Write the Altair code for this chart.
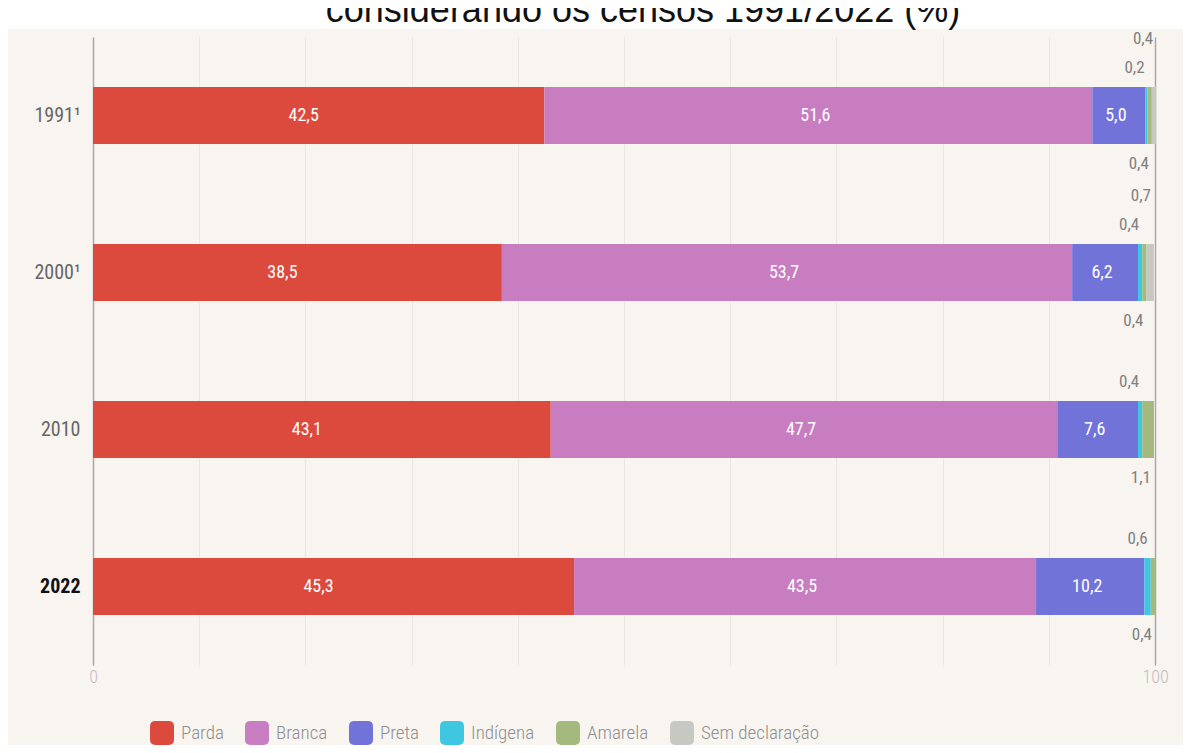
import altair as alt
import pandas as pd

# ---- data ----
years = ["1991¹", "2000¹", "2010", "2022"]
categories = ["Parda", "Branca", "Preta", "Indígena", "Amarela", "Sem declaração"]
colors = ["#dc4a3d", "#c87dc0", "#7273d9", "#3fc6e0", "#a4b97d", "#c8c8c3"]
parda = [42.5, 38.5, 43.1, 45.3]
branca = [51.6, 53.7, 47.7, 43.5]
preta = [5.0, 6.2, 7.6, 10.2]
indigena = [0.2, 0.4, 0.4, 0.6]
amarela = [0.4, 0.4, 1.1, 0.4]
sem_declaracao = [0.4, 0.7, 0.0, 0.0]
title_text = "considerando os censos 1991/2022 (%)"

series = [parda, branca, preta, indigena, amarela, sem_declaracao]
label_place = ["in0", "in", "in", "above", "below", "above2"]

rows = []
for yi, yr in enumerate(years):
    cum = 0.0
    for ci, cat in enumerate(categories):
        v = series[ci][yi]
        start, end = cum, cum + v
        cum = end
        place = label_place[ci] if v > 0 else "none"
        rows.append({
            "year": yr, "cat": cat, "order": ci, "value": v,
            "start": start, "end": end, "mid": (start + end) / 2,
            "label": f"{v:.1f}".replace(".", ","), "place": place,
        })
df = pd.DataFrame(rows)

FONT = "Roboto Condensed, Liberation Sans Narrow, DejaVu Sans Condensed, Roboto"
W, H = 1062, 628
PAD = {"left": 85, "top": 29, "right": 28, "bottom": 80}

rounded = "M-1,-0.55 Q-1,-1 -0.55,-1 L0.55,-1 Q1,-1 1,-0.55 L1,0.55 Q1,1 0.55,1 L-0.55,1 Q-1,1 -1,0.55 Z"

base = alt.Chart(df)

y_enc = alt.Y("year:N", sort=years,
              scale=alt.Scale(domain=years, paddingInner=0, paddingOuter=0),
              axis=alt.Axis(title=None, domain=True, domainColor="#a9a9a9", domainWidth=1.5,
                            ticks=False, labelFontSize=20, labelPadding=13, labelFont=FONT,
                            labelColor=alt.condition("datum.value == '2022'", alt.value("#111111"), alt.value("#666666")),
                            labelFontWeight=alt.condition("datum.value == '2022'", alt.value("bold"), alt.value("normal")),
                            grid=False))

x_enc = alt.X("start:Q",
              scale=alt.Scale(domain=[0, 100], nice=False, zero=True),
              axis=alt.Axis(title=None, values=list(range(0, 101, 10)),
                            labelExpr="(datum.value == 0 || datum.value == 100) ? datum.label : ''",
                            labelFlush=False,
                            grid=True,
                            gridColor=alt.condition("datum.value == 100", alt.value("#a9a9a9"), alt.value("#ebe6e1")),
                            gridWidth=alt.condition("datum.value == 100", alt.value(1.5), alt.value(1)),
                            domain=False, ticks=False, labelColor="#c0c0c0", labelFontSize=18,
                            labelFontWeight=300, labelPadding=3, labelFont=FONT))

bars = base.mark_bar(size=57).encode(
    x=x_enc,
    x2="end:Q",
    y=y_enc,
    color=alt.Color("cat:N", sort=categories,
                    scale=alt.Scale(domain=categories, range=colors),
                    legend=alt.Legend(title=None, orient="none", legendX=57, legendY=684,
                                      direction="horizontal", symbolType=rounded, symbolSize=576,
                                      symbolStrokeWidth=0, labelFontSize=19, labelFontWeight=300,
                                      labelColor="#8f8f8f",
                                      labelFont=FONT, columnPadding=21, labelOffset=7, padding=0)),
    order=alt.Order("order:Q"),
)

def inner(place, dx):
    return base.transform_filter(f"datum.place == '{place}'").mark_text(
        color="white", fontSize=18, font=FONT, dx=dx
    ).encode(x="mid:Q", y=alt.Y("year:N", sort=years), text="label:N")

inner_parda = inner("in0", -15)
inner_rest = inner("in", -3)

def side(place, dy):
    return base.transform_filter(f"datum.place == '{place}'").mark_text(
        color="#808080", fontSize=17, font=FONT, align="right", dx=-3, dy=dy
    ).encode(x="end:Q", y=alt.Y("year:N", sort=years), text="label:N")

above = side("above", -48)
above2 = side("above2", -77)
below = side("below", 48)

one = alt.Chart(pd.DataFrame({"k": [0]}))
white_band = one.mark_rect(color="white").encode(
    x=alt.value(-PAD["left"]), x2=alt.value(W + PAD["right"]),
    y=alt.value(-PAD["top"]), y2=alt.value(-8))
title = one.mark_text(text=title_text, fontSize=36, font="Liberation Sans, Arial",
                      color="#111111", baseline="alphabetic", align="center").encode(
    x=alt.value(550), y=alt.value(-15))

chart = alt.layer(bars, inner_parda, inner_rest, above, above2, below, white_band, title).properties(
    width=W, height=H, padding=PAD,
    autosize=alt.AutoSizeParams(type="none"),
    background="#f8f4f0",
).configure_view(stroke=None)

chart.save("out.html", embed_options={"renderer": "svg", "actions": False})
